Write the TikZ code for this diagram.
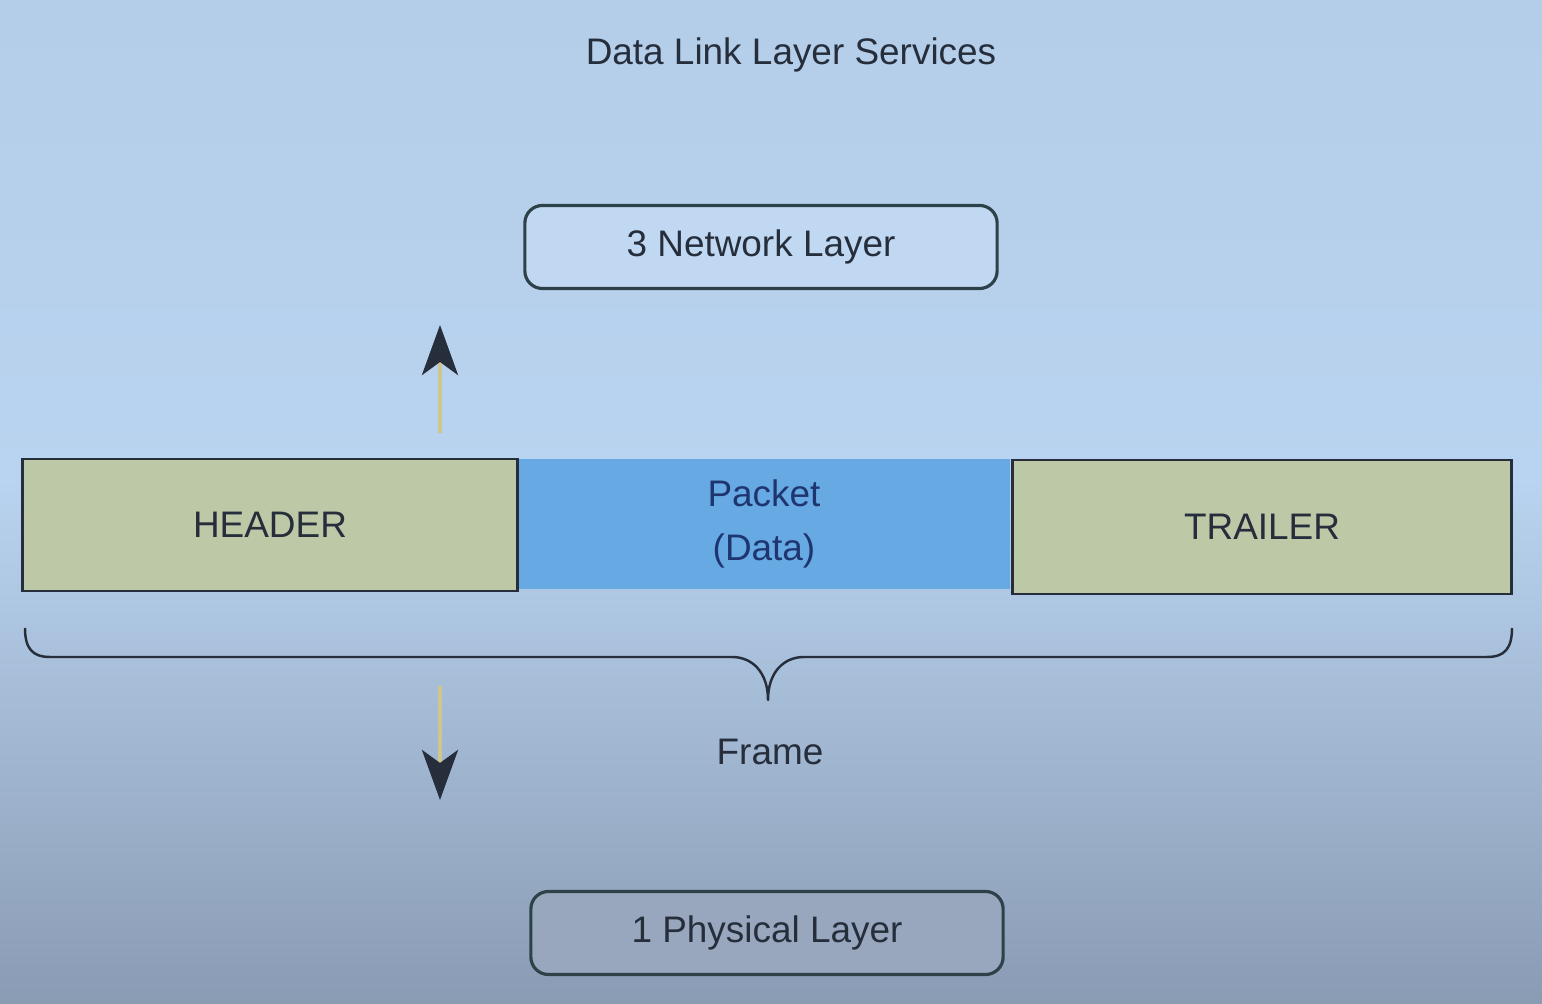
\documentclass[tikz,border=0pt]{standalone}
\usepackage{fontspec}
\setmainfont{Liberation Sans}
\usepackage{tikz}
\usetikzlibrary{arrows.meta}

\definecolor{bgtop}{HTML}{B4CDE9}
\definecolor{bgmid}{HTML}{B9D4F0}
\definecolor{bgbot}{HTML}{8A9BB4}
\definecolor{ink}{HTML}{262E3C}
\definecolor{edge}{HTML}{2E4148}
\definecolor{hdr}{HTML}{BDC8A7}
\definecolor{pkt}{HTML}{67A9E3}
\definecolor{pktink}{HTML}{1E3570}
\definecolor{shaft}{HTML}{CFC68E}

\begin{document}
\begin{tikzpicture}[
        x=0.01cm, y=-0.01cm,
        every node/.style={font=\fontsize{10.5}{15.5}\selectfont, text=ink},
        layer/.style={draw=edge, line width=0.9pt, rounded corners=5pt, fill=#1,
            minimum width=4.72cm, minimum height=0.83cm},
        field/.style={draw=ink, line width=0.8pt, fill=hdr, minimum height=1.32cm},
        flow/.style={line width=1.2pt, draw=shaft,
            -{Stealth[length=0.5cm, width=0.36cm, inset=0.13cm, color=ink]}}
    ]
        \useasboundingbox (0,0) rectangle (1542,1004);
        \shade [top color=bgtop, bottom color=bgmid] (0,0) rectangle (1542,480);
        \shade [top color=bgmid, bottom color=bgbot] (0,479) rectangle (1542,1004);

        \node (title) at (791,55) {Data Link Layer Services};

        \node [layer=bgmid!90!white] (net)  at (761,247) {3 Network Layer};
        \node [layer=bgbot!88!white] (phys) at (767,933) {1 Physical Layer};

        \node [fill=pkt, minimum width=4.92cm, minimum height=1.30cm, align=center,
            text=pktink] (packet) at (764,524) {Packet\\(Data)};
        \node [field, minimum width=4.95cm] (head)  at (270,525) {HEADER};
        \node [field, minimum width=4.98cm, minimum height=1.34cm] (trail) at (1262,527) {TRAILER};

        \coordinate (bl) at (25,628);
        \coordinate (tip) at (768,700);
        \coordinate (br) at (1512,628);
        \draw [ink, line width=0.7pt, line join=round]
            (bl) .. controls (25,648) and (32,657) .. (50,657) -- (732,657)
            .. controls (752,657) and (768,672) .. (tip)
            .. controls (768,672) and (784,657) .. (804,657) -- (1487,657)
            .. controls (1505,657) and (1512,648) .. (br);
        \node (frame) at (770,752) {Frame};

        \coordinate (upfoot) at (440,433);
        \coordinate (uptip)  at (440,325);
        \coordinate (dnfoot) at (440,686);
        \coordinate (dntip)  at (440,800);
        \draw [flow] (upfoot) -- (uptip);
        \draw [flow] (dnfoot) -- (dntip);
    \end{tikzpicture}
\end{document}
